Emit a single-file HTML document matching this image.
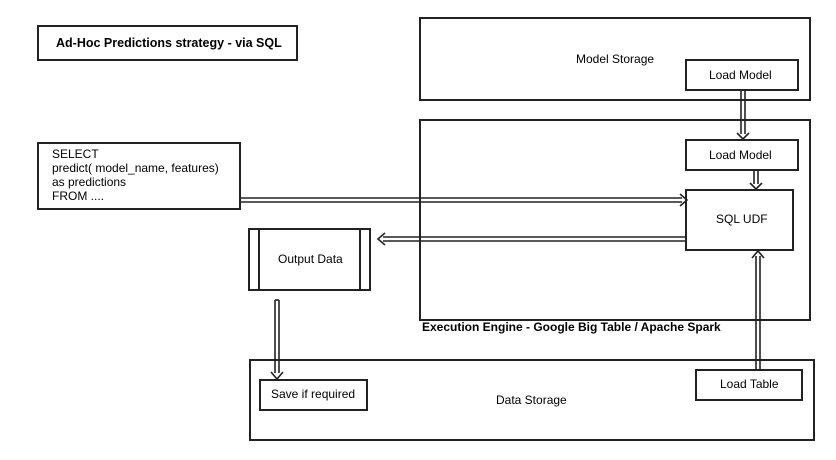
<!DOCTYPE html>
<html><head><meta charset="utf-8"><style>body{margin:0;background:#fff}svg{display:block}text{font-family:"Liberation Sans",sans-serif;font-size:12px;fill:#000}</style></head><body>
<svg width="836" height="460" viewBox="0 0 836 460">
<g fill="#fff" stroke="#222" stroke-width="2">
<rect x="38" y="26" width="259" height="34"/>
<rect x="420" y="18" width="390" height="82"/>
<rect x="686" y="60" width="112" height="30"/>
<rect x="420" y="120" width="390" height="200"/>
<rect x="686" y="140" width="112" height="30"/>
<rect x="686" y="190" width="107" height="60"/>
<rect x="250" y="360" width="564" height="80"/>
<rect x="260" y="380" width="107" height="30"/>
<rect x="696" y="370" width="106" height="30"/>
<rect x="38" y="143" width="202" height="66"/>
<rect x="249" y="229" width="121" height="61"/>
<line x1="259" y1="229" x2="259" y2="290"/><line x1="360" y1="229" x2="360" y2="290"/>
</g>
<g fill="none" stroke="#222" stroke-width="1.6">
<line x1="241" y1="198" x2="682" y2="198"/><line x1="241" y1="202" x2="682" y2="202"/>
<path d="M680 194 L687 200 L680 206" />
<line x1="686" y1="237" x2="383" y2="237"/><line x1="686" y1="241" x2="383" y2="241"/>
<path d="M385 233 L378 239 L385 245"/>
<line x1="275" y1="300" x2="275" y2="373"/><line x1="279" y1="300" x2="279" y2="373"/>
<line x1="275" y1="300" x2="279" y2="300"/>
<path d="M271 372 L277 379 L283 372"/>
<line x1="756" y1="370" x2="756" y2="256"/><line x1="760" y1="370" x2="760" y2="256"/>
<path d="M752 258 L758 251 L764 258"/>
<line x1="741" y1="91" x2="741" y2="134"/><line x1="745" y1="91" x2="745" y2="134"/>
<path d="M737 133 L743 139 L749 133"/>
<line x1="754" y1="171" x2="754" y2="184"/><line x1="758" y1="171" x2="758" y2="184"/>
<path d="M750 183 L756 189 L762 183"/>
</g>
<text x="56" y="47" font-weight="bold" style="font-size:12.5px">Ad-Hoc Predictions strategy - via SQL</text>
<text x="576" y="63">Model Storage</text>
<text x="709" y="79">Load Model</text>
<text x="709" y="159">Load Model</text>
<text x="716" y="223">SQL UDF</text>
<text x="52" y="158">SELECT</text>
<text x="52" y="172">predict( model_name, features)</text>
<text x="52" y="186">as predictions</text>
<text x="52" y="200">FROM ....</text>
<text x="278" y="263">Output Data</text>
<text x="422" y="331" font-weight="bold">Execution Engine - Google Big Table / Apache Spark</text>
<text x="271" y="398">Save if required</text>
<text x="496" y="404">Data Storage</text>
<text x="720" y="388">Load Table</text>
</svg>
</body></html>
